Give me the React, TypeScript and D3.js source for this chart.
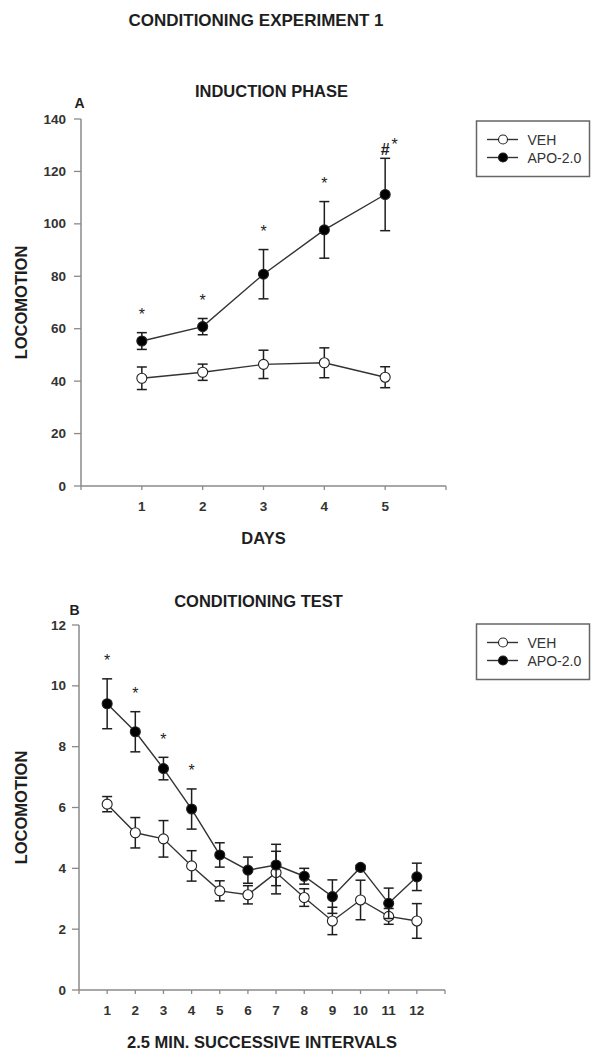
import * as d3 from 'd3';

// panel A: induction phase
const days = [1, 2, 3, 4, 5];
const vehA = [41.1, 43.4, 46.4, 47.0, 41.5];
const vehAErr = [4.3, 3.1, 5.4, 5.7, 4.0];
const apoA = [55.3, 60.8, 80.8, 97.7, 111.2];
const apoAErr = [3.2, 3.1, 9.4, 10.8, 13.8];
const sigA = ['*', '*', '*', '*', '#*'];
const yTicksA = [0, 20, 40, 60, 80, 100, 120, 140];

// panel B: conditioning test
const intervals = [1, 2, 3, 4, 5, 6, 7, 8, 9, 10, 11, 12];
const vehB = [6.11, 5.17, 4.97, 4.08, 3.26, 3.13, 3.86, 3.04, 2.27, 2.96, 2.42, 2.27];
const vehBErr = [0.25, 0.5, 0.6, 0.5, 0.33, 0.3, 0.7, 0.29, 0.45, 0.65, 0.26, 0.57];
const apoB = [9.41, 8.49, 7.28, 5.95, 4.44, 3.94, 4.11, 3.74, 3.07, 4.03, 2.85, 3.72];
const apoBErr = [0.82, 0.66, 0.37, 0.66, 0.4, 0.43, 0.68, 0.26, 0.55, 0.07, 0.5, 0.45];
const sigB = ['*', '*', '*', '*', '', '', '', '', '', '', '', ''];
const yTicksB = [0, 2, 4, 6, 8, 10, 12];

const seriesNames = ['VEH', 'APO-2.0'];

const FONT = 'Liberation Sans, Arial, sans-serif';
const AXIS = '#8a8a8a';
const INK = '#1e1e1e';

function Panel({ letter, title, xLabel, xs, veh, vehErr, apo, apoErr, sig, yTicks, xMax,
  left, right, top, bottom, titleX, titleY, letterX, letterY, legendTop }) {
  const x = d3.scaleLinear().domain([0, xMax]).range([left, right]);
  const y = d3.scaleLinear().domain([0, yTicks[yTicks.length - 1]]).range([bottom, top]);
  const line = d3.line<number>().x((d, i) => x(xs[i])).y(d => y(d));
  const cap = 5;

  const series = [
    { vals: veh, errs: vehErr, fill: '#fff' },
    { vals: apo, errs: apoErr, fill: '#000' },
  ];

  return (
    <g fontFamily={FONT}>
      <text x={letterX} y={letterY} fontSize={14} fontWeight="bold" textAnchor="middle" dominantBaseline="central" fill={INK}>{letter}</text>
      <text x={titleX} y={titleY} fontSize={16.5} fontWeight="bold" textAnchor="middle" dominantBaseline="central" fill={INK}>{title}</text>

      {/* y axis */}
      <line x1={left} x2={left} y1={top} y2={bottom} stroke={AXIS} strokeWidth={1.5} />
      {yTicks.map(t => (
        <g key={'y' + t}>
          <line x1={left - 7} x2={left} y1={y(t)} y2={y(t)} stroke={AXIS} strokeWidth={1.3} />
          <text x={66} y={y(t)} fontSize={13.5} fontWeight="bold" textAnchor="end" dominantBaseline="central" fill="#333">{t}</text>
        </g>
      ))}
      <text transform={`translate(20.5, ${(top + bottom) / 2}) rotate(-90)`} fontSize={16.5} fontWeight="bold" textAnchor="middle" dominantBaseline="central" fill={INK}>LOCOMOTION</text>

      {/* x axis */}
      <line x1={left} x2={right} y1={bottom} y2={bottom} stroke={AXIS} strokeWidth={1.5} />
      {d3.range(0, xMax + 1).map(t => (
        <line key={'xt' + t} x1={x(t)} x2={x(t)} y1={bottom} y2={bottom + 4} stroke={AXIS} strokeWidth={1.3} />
      ))}
      {xs.map(t => (
        <text key={'xl' + t} x={x(t)} y={bottom + 20.5} fontSize={13.5} fontWeight="bold" textAnchor="middle" dominantBaseline="central" fill="#333">{t}</text>
      ))}
      <text x={(left + right) / 2} y={bottom + 51.5} fontSize={16.5} fontWeight="bold" textAnchor="middle" dominantBaseline="central" fill={INK}>{xLabel}</text>

      {/* data */}
      {series.map((s, si) => (
        <g key={'s' + si}>
          <path d={line(s.vals) || ''} fill="none" stroke="#333" strokeWidth={1.4} />
          {s.vals.map((v, i) => {
            const cx = x(xs[i]);
            const hi = y(v + s.errs[i]);
            const lo = y(v - s.errs[i]);
            return (
              <g key={'e' + i} stroke={INK} strokeWidth={1.5}>
                <line x1={cx} x2={cx} y1={hi} y2={lo} />
                <line x1={cx - cap} x2={cx + cap} y1={hi} y2={hi} />
                <line x1={cx - cap} x2={cx + cap} y1={lo} y2={lo} />
              </g>
            );
          })}
          {s.vals.map((v, i) => (
            <circle key={'m' + i} cx={x(xs[i])} cy={y(v)} r={5} fill={s.fill} stroke="#222" strokeWidth={1.1} />
          ))}
        </g>
      ))}

      {/* significance marks above APO error bars */}
      {sig.map((m, i) => {
        if (!m) return null;
        const cx = x(xs[i]);
        const errTop = y(apo[i] + apoErr[i]);
        if (m === '#*') {
          return (
            <g key={'sig' + i} fill={INK}>
              <text x={cx} y={errTop - 3} fontSize={16} fontWeight="bold" textAnchor="middle">#</text>
              <text x={cx + 9.5} y={errTop - 17 + 9} fontSize={16} textAnchor="middle">*</text>
            </g>
          );
        }
        return (
          <text key={'sig' + i} x={cx} y={errTop - 21.5 + 9} fontSize={16} textAnchor="middle" fill={INK}>*</text>
        );
      })}

      {/* legend */}
      <rect x={476.5} y={legendTop} width={113} height={55.5} fill="#fff" stroke="#666" strokeWidth={1.5} />
      {seriesNames.map((n, i) => {
        const ry = legendTop + 18.5 + i * 18;
        return (
          <g key={'lg' + i}>
            <line x1={487} x2={518} y1={ry} y2={ry} stroke="#333" strokeWidth={1.4} />
            <circle cx={503} cy={ry} r={4.5} fill={series[i].fill} stroke="#222" strokeWidth={1.1} />
            <text x={527.5} y={ry} fontSize={14} dominantBaseline="central" fill="#333">{n}</text>
          </g>
        );
      })}
    </g>
  );
}

export default function App() {
  return (
    <svg width={592} height={1052} style={{ position: 'absolute', left: 0, top: 0, background: '#fff' }}>
      <text x={256} y={20} fontFamily={FONT} fontSize={17} fontWeight="bold" textAnchor="middle" dominantBaseline="central" fill={INK}>CONDITIONING EXPERIMENT 1</text>
      <Panel letter="A" title="INDUCTION PHASE" xLabel="DAYS" xs={days}
        veh={vehA} vehErr={vehAErr} apo={apoA} apoErr={apoAErr} sig={sigA}
        yTicks={yTicksA} xMax={6} left={81} right={446} top={119} bottom={486}
        titleX={271.5} titleY={91} letterX={79.5} letterY={103} legendTop={121} />
      <Panel letter="B" title="CONDITIONING TEST" xLabel="2.5 MIN. SUCCESSIVE INTERVALS" xs={intervals}
        veh={vehB} vehErr={vehBErr} apo={apoB} apoErr={apoBErr} sig={sigB}
        yTicks={yTicksB} xMax={13} left={79} right={445} top={625} bottom={990}
        titleX={258.5} titleY={601} letterX={74.5} letterY={610} legendTop={624} />
    </svg>
  );
}
